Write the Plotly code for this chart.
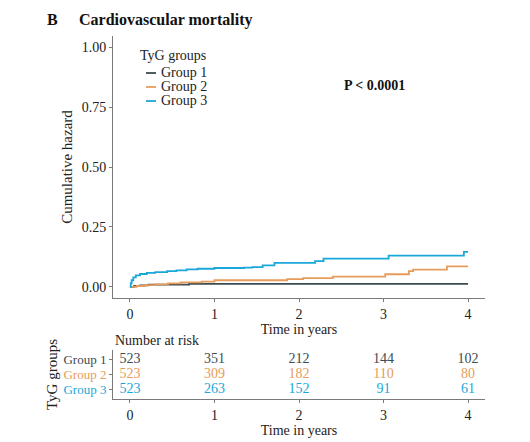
import plotly.graph_objects as go

# ---- data ----
groups = ["Group 1", "Group 2", "Group 3"]
colors = ["#3d4b52", "#e69c5a", "#1aa7d9"]

g1_time = [0, 0.05, 0.12, 0.22, 0.7, 4.0]
g1_haz = [0, 0.004, 0.007, 0.010, 0.0125, 0.0125]

g2_time = [0, 0.08, 0.18, 0.3, 0.45, 0.6, 0.85, 1.0, 1.86, 2.05, 2.4, 3.02, 3.3, 3.35, 3.75, 4.0]
g2_haz = [0, 0.004, 0.008, 0.011, 0.015, 0.019, 0.022, 0.028, 0.033, 0.037, 0.043, 0.053, 0.066, 0.072, 0.086, 0.086]

g3_time = [0, 0.01, 0.02, 0.04, 0.07, 0.12, 0.2, 0.3, 0.44, 0.55, 0.67, 0.8, 1.0, 1.35, 1.45, 1.57, 1.71,
           2.19, 2.29, 3.06, 3.95, 4.0]
g3_haz = [0, 0.015, 0.028, 0.04, 0.048, 0.054, 0.059, 0.062, 0.066, 0.069, 0.073, 0.076, 0.079, 0.081, 0.083,
          0.09, 0.1, 0.108, 0.118, 0.131, 0.146, 0.146]

risk_times = [0, 1, 2, 3, 4]
risk_g1 = [523, 351, 212, 144, 102]
risk_g2 = [523, 309, 182, 110, 80]
risk_g3 = [523, 263, 152, 91, 61]

x_ticks = [0, 1, 2, 3, 4]
y_ticks = [0, 0.25, 0.5, 0.75, 1.0]
y_ticklabels = ["0.00", "0.25", "0.50", "0.75", "1.00"]

# ---- figure ----
W, H = 530, 442
FONT = "Liberation Serif"
AXC = "#7a7a7a"
TXT = "#222"


def px_x(p):
    return p / W


def px_y(p):
    return 1 - p / H


fig = go.Figure()

for name, col, t, h in zip(groups, colors, [g1_time, g2_time, g3_time], [g1_haz, g2_haz, g3_haz]):
    fig.add_trace(go.Scatter(x=t, y=h, mode="lines", line=dict(color=col, width=1.8, shape="hv"),
                             name=name, xaxis="x", yaxis="y", showlegend=False))

row_pos = {"Group 1": 3, "Group 2": 2, "Group 3": 1}
for name, col, vals in zip(groups, colors, [risk_g1, risk_g2, risk_g3]):
    fig.add_trace(go.Scatter(x=risk_times, y=[row_pos[name]] * len(risk_times), mode="text",
                             text=[str(v) for v in vals],
                             textfont=dict(family=FONT, size=14, color=col),
                             textposition="middle center", showlegend=False,
                             xaxis="x2", yaxis="y2", hoverinfo="skip"))

x_dom = [px_x(113), px_x(485)]

common_axis = dict(showgrid=False, zeroline=False, showline=True, linecolor=AXC, linewidth=1,
                   ticks="outside", tickcolor=AXC, automargin=False)

fig.update_layout(
    width=W, height=H,
    margin=dict(l=0, r=0, t=0, b=0, autoexpand=False),
    paper_bgcolor="white", plot_bgcolor="white",
    font=dict(family=FONT, size=14, color=TXT),
    xaxis=dict(domain=x_dom, range=[-0.2, 4.2], tickvals=x_ticks, ticktext=[str(v) for v in x_ticks],
               ticklen=3, tickfont=dict(family=FONT, size=14, color=TXT),
               title=dict(text="Time in years", font=dict(family=FONT, size=14), standoff=0),
               anchor="y", **common_axis),
    yaxis=dict(domain=[px_y(298), px_y(36)], range=[-0.046, 1.046], tickvals=y_ticks, ticktext=y_ticklabels,
               ticklen=3, tickfont=dict(family=FONT, size=14, color=TXT),
               title=dict(text="Cumulative hazard", font=dict(family=FONT, size=15), standoff=5),
               anchor="x", **common_axis),
    xaxis2=dict(domain=x_dom, range=[-0.2, 4.2], tickvals=x_ticks, ticktext=[str(v) for v in x_ticks],
                ticklen=3, tickfont=dict(family=FONT, size=14, color=TXT),
                title=dict(text="Time in years", font=dict(family=FONT, size=14), standoff=0),
                anchor="y2", **common_axis),
    yaxis2=dict(domain=[px_y(399), px_y(350)], range=[0.4, 3.6], tickvals=[3, 2, 1],
                ticktext=[f'<span style="color:{c}">{g}</span>' for g, c in zip(groups, colors)],
                ticklen=3, tickfont=dict(family=FONT, size=13, color=TXT),
                anchor="x2", **common_axis),
    showlegend=False,
)

# risk-table y title
fig.add_annotation(x=px_x(52), y=px_y(375), xref="paper", yref="paper", text="TyG groups", textangle=-90,
                   showarrow=False, font=dict(family=FONT, size=15, color=TXT), xanchor="center", yanchor="middle")

# legend (manual, short keys as in the reference)
fig.add_annotation(x=px_x(138), y=px_y(55), xref="paper", yref="paper", text="TyG groups",
                   showarrow=False, font=dict(family=FONT, size=14, color=TXT), xanchor="left", yanchor="middle")
for i, (name, col) in enumerate(zip(groups, colors)):
    yy = 73 + 14 * i
    fig.add_shape(type="line", xref="paper", yref="paper", x0=px_x(146), x1=px_x(156),
                  y0=px_y(yy), y1=px_y(yy), line=dict(color=col, width=1.8))
    fig.add_annotation(x=px_x(159), y=px_y(yy), xref="paper", yref="paper", text=name,
                       showarrow=False, font=dict(family=FONT, size=14, color=TXT),
                       xanchor="left", yanchor="middle")

fig.add_annotation(x=px_x(52), y=px_y(20), xref="paper", yref="paper", text="<b>B</b>",
                   showarrow=False, font=dict(family=FONT, size=16, color="#111"), xanchor="center", yanchor="middle")
fig.add_annotation(x=px_x(77), y=px_y(20), xref="paper", yref="paper", text="<b>Cardiovascular mortality</b>",
                   showarrow=False, font=dict(family=FONT, size=16, color="#111"), xanchor="left", yanchor="middle")
fig.add_annotation(x=px_x(374), y=px_y(86), xref="paper", yref="paper", text="<b>P < 0.0001</b>",
                   showarrow=False, font=dict(family=FONT, size=14, color="#111"), xanchor="center", yanchor="middle")
fig.add_annotation(x=px_x(113), y=px_y(340), xref="paper", yref="paper", text="Number at risk",
                   showarrow=False, font=dict(family=FONT, size=14, color=TXT), xanchor="left", yanchor="middle")

fig.write_html("out.html", config={"displayModeBar": False},
               post_script="document.body.style.margin='0';document.body.style.padding='0';")
